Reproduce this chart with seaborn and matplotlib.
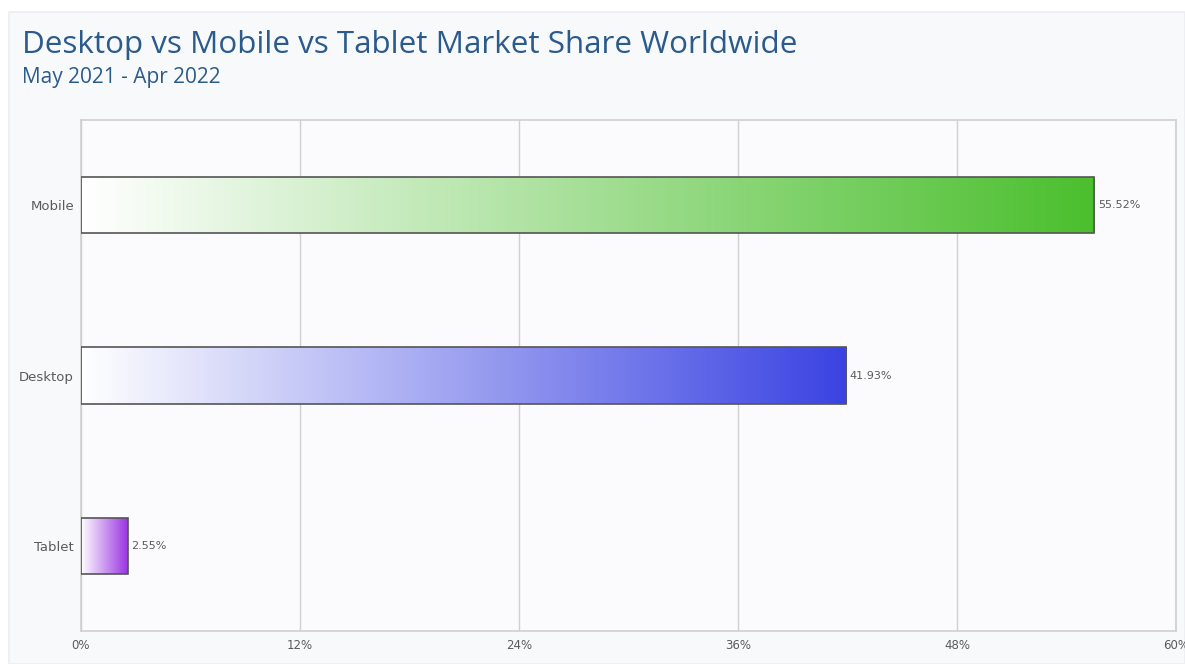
import numpy as np
import pandas as pd
import matplotlib
matplotlib.use("Agg")
import matplotlib.pyplot as plt
from matplotlib.colors import LinearSegmentedColormap
from matplotlib.patches import Rectangle
import seaborn as sns

# Market share by device class
platforms = ["Mobile", "Desktop", "Tablet"]
shares = [55.52, 41.93, 2.55]
end_colors = ["#4bbf2e", "#3a43e2", "#9a35e2"]
x_ticks = [0, 12, 24, 36, 48, 60]
x_tick_labels = ["0%", "12%", "24%", "36%", "48%", "60%"]

sns.set_theme(style="white")
plt.rcParams["font.family"] = ["DejaVu Sans"]

df = pd.DataFrame({"platform": platforms, "share": shares})

fig = plt.figure(figsize=(11.85, 6.64), dpi=100, facecolor="white")
# card panel behind the chart
fig.patches.append(Rectangle((0.008, 0.0), 0.992, 0.982, transform=fig.transFigure,
                             facecolor="#f8f9fb", edgecolor="#eceef1", lw=1.2, zorder=-10))

ax = fig.add_axes([81 / 1185, 1 - 631 / 664, (1176 - 81) / 1185, (631 - 120) / 664])
ax.set_facecolor("#fbfbfd")

sns.barplot(data=df, x="share", y="platform", order=platforms, orient="h",
            width=0.33, color="white", edgecolor="#555555", linewidth=1.2, ax=ax,
            zorder=3)

# horizontal gradient fill for each bar, clipped to the bar outline
grad = np.linspace(0, 1, 256).reshape(1, -1)
for patch, col in zip(ax.patches, end_colors):
    x0, y0 = patch.get_x(), patch.get_y()
    w, h = patch.get_width(), patch.get_height()
    cmap = LinearSegmentedColormap.from_list("g", ["#ffffff", col])
    im = ax.imshow(grad, extent=[x0, x0 + w, y0 + h, y0], aspect="auto",
                   cmap=cmap, zorder=2.5, interpolation="bicubic")
    im.set_clip_path(patch)
    patch.set_facecolor("none")

ax.set_ylim(2.5, -0.5)
ax.set_xlim(0, 60)

# value labels at the bar ends
for i, v in enumerate(shares):
    ax.text(v + 0.2, i, f"{v:.2f}%", va="center", ha="left",
            fontsize=8, color="#5a5a5a", zorder=4)

ax.set_xticks(x_ticks)
ax.set_xticklabels(x_tick_labels, fontsize=8.5, color="#5a5a5a")
ax.tick_params(axis="y", labelsize=9.5, labelcolor="#5a5a5a", length=0, pad=5)
ax.tick_params(axis="x", length=0, pad=6)
ax.set_xlabel("")
ax.set_ylabel("")
ax.grid(axis="x", color="#d0d0d0", lw=1, zorder=0)
ax.set_axisbelow(True)
for s in ax.spines.values():
    s.set_color("#cfcfcf")
    s.set_linewidth(1.2)

fig.text(22 / 1185, 1 - 45 / 664, "Desktop vs Mobile vs Tablet Market Share Worldwide",
         fontsize=22.6, color="#2b5a8c", va="center", ha="left",
         family=["Open Sans", "DejaVu Sans"])
fig.text(22 / 1185, 1 - 77 / 664, "May 2021 - Apr 2022",
         fontsize=15, color="#2b5a8c", va="center", ha="left",
         family=["Open Sans", "DejaVu Sans"])

fig.savefig("out.png", dpi=100, facecolor=fig.get_facecolor())
